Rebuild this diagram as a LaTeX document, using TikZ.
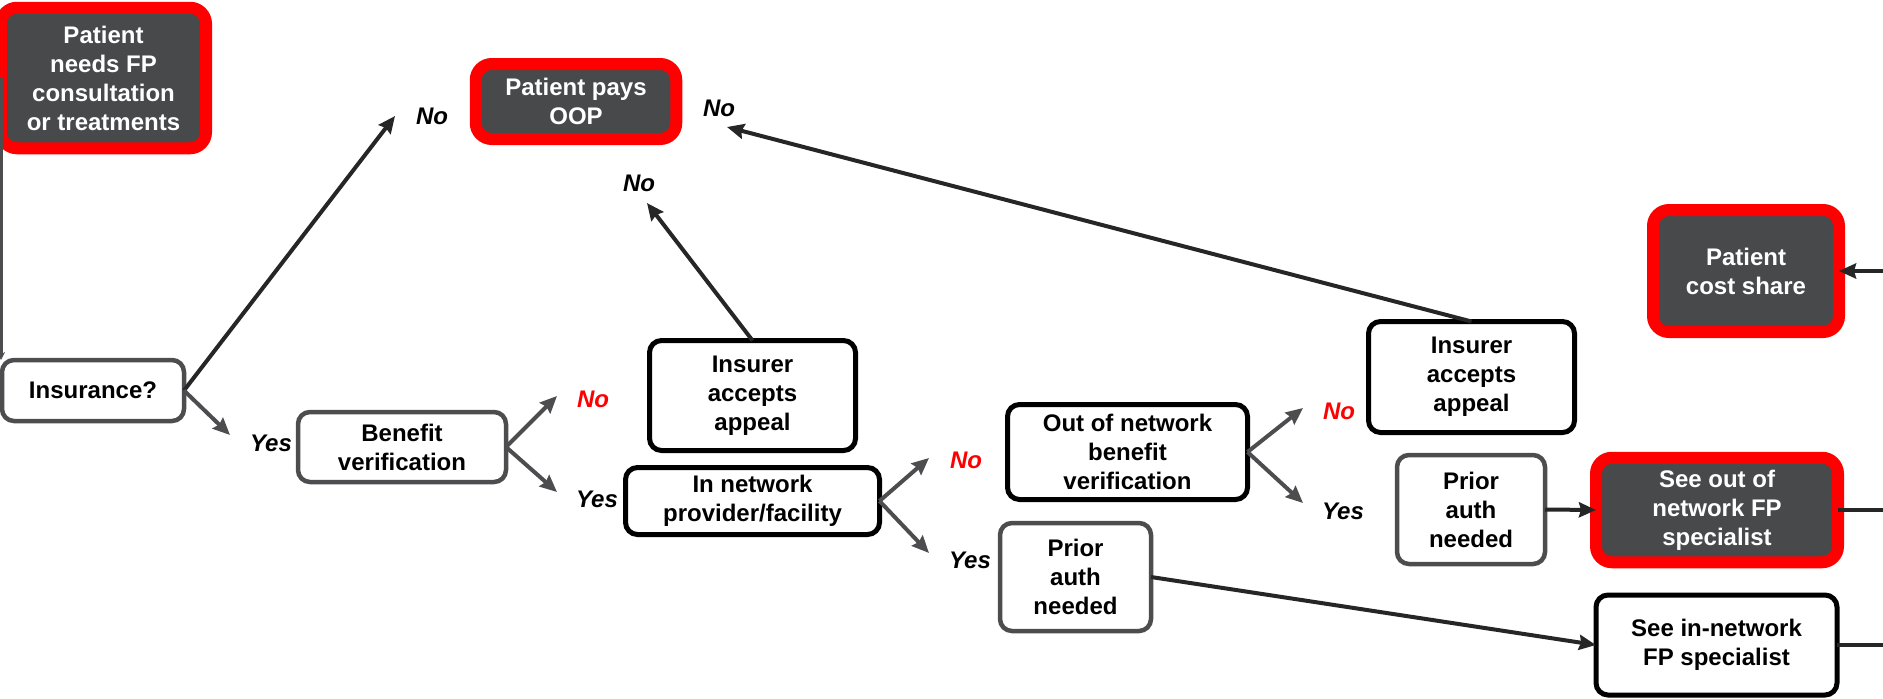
\documentclass[tikz,border=0pt]{standalone}
\usepackage{fontspec}
\setmainfont{Liberation Sans}
\usetikzlibrary{arrows.meta}
\definecolor{darkfill}{HTML}{48494B}
\definecolor{boxgray}{HTML}{4D4D4F}
\definecolor{linedark}{HTML}{262626}
\tikzstyle{box} = [rectangle, rounded corners=12pt, align=center, inner sep=0pt, outer sep=0pt, font=\fontsize{24}{29}\selectfont\bfseries, fill=white]
\tikzstyle{graybox} = [box, draw=boxgray, line width=4.5pt]
\tikzstyle{blackbox} = [box, draw=black, line width=5pt]
\tikzstyle{redbox} = [box, draw=red, line width=12pt, fill=darkfill, text=white, rounded corners=16pt]
\tikzstyle{arrow} = [line width=4pt, draw=linedark, -{Stealth[length=17pt,width=15pt,inset=2pt]}]
\tikzstyle{forkarrow} = [arrow, draw=boxgray]
\tikzstyle{answer} = [font=\fontsize{24}{29}\selectfont\bfseries\itshape, inner sep=0pt]

\begin{document}
\begin{tikzpicture}[x=1pt, y=-1pt]
\useasboundingbox (0,0) rectangle (1883,699);
% End states
\node (need) [redbox, minimum width=205pt, minimum height=140.5pt] at (103.5,78) {Patient\\ needs FP\\ consultation\\ or treatments};
\node (oop) [redbox, minimum width=200.5pt, minimum height=75pt] at (576,101.5) {Patient pays\\ OOP};
\node (cost) [redbox, minimum width=186pt, minimum height=122pt] at (1746,271) {Patient\\ cost share};
\node (seeout) [redbox, minimum width=242pt, minimum height=104.5pt] at (1717,510) {See out of\\ network FP\\ specialist};
\node (seein) [blackbox, minimum width=241pt, minimum height=100pt] at (1716.5,645) {See in-network\\ FP specialist};
% Decisions
\node (insur) [graybox, minimum width=182pt, minimum height=61pt] at (93,390.5) {Insurance?};
\node (benefit) [graybox, minimum width=208pt, minimum height=70pt] at (402,447) {Benefit\\ verification};
\node (appeal1) [blackbox, minimum width=206pt, minimum height=110pt] at (752.5,395.5) {Insurer\\ accepts\\ appeal};
\node (innet) [blackbox, minimum width=254pt, minimum height=67pt] at (752.5,501) {In network\\ provider/facility};
\node (oon) [blackbox, minimum width=240pt, minimum height=95pt] at (1127.5,452) {Out of network\\ benefit\\ verification};
\node (prior1) [graybox, minimum width=151pt, minimum height=108pt] at (1075.5,577) {Prior\\ auth\\ needed};
\node (appeal2) [blackbox, minimum width=206pt, minimum height=111pt] at (1471.5,377) {Insurer\\ accepts\\ appeal};
\node (prior2) [graybox, minimum width=148pt, minimum height=109pt] at (1471,509.5) {Prior\\ auth\\ needed};

% Yes/No labels
\node (no1) [answer] at (432,116) {No};
\node (no2) [answer] at (719,108) {No};
\node (no3) [answer] at (639,183) {No};
\node (yes1) [answer] at (271,443) {Yes};
\node (nored1) [answer, text=red] at (593,399) {No};
\node (yes2) [answer] at (597,499) {Yes};
\node (nored2) [answer, text=red] at (966,460) {No};
\node (yes3) [answer] at (970,560) {Yes};
\node (nored3) [answer, text=red] at (1339,411) {No};
\node (yes4) [answer] at (1343,511) {Yes};

% Arrow ends
\coordinate (t1) at (395,116);
\coordinate (t2) at (230,435);
\coordinate (t3) at (557,396);
\coordinate (t4) at (557,492);
\coordinate (t5) at (647,203);
\coordinate (t6) at (929,458);
\coordinate (t7) at (929,553);
\coordinate (t8) at (1303,408);
\coordinate (t9) at (1303,503);
\coordinate (t10) at (727,127);
\coordinate (edge1) at (1883,271);
\coordinate (edge2) at (1883,510);
\coordinate (edge3) at (1883,645);

% Arrows
\draw [arrow, line width=3pt, draw=boxgray, -{Stealth[length=8pt,width=8pt]}] (need.west) -- (need.west |- insur.north);
\draw [arrow] (insur.east) -- (t1);
\draw [forkarrow] (insur.east) -- (t2);
\draw [forkarrow] (benefit.east) -- (t3);
\draw [forkarrow] (benefit.east) -- (t4);
\draw [arrow] (appeal1.north) -- (t5);
\draw [forkarrow] (innet.east) -- (t6);
\draw [forkarrow] (innet.east) -- (t7);
\draw [forkarrow] (oon.east) -- (t8);
\draw [forkarrow] (oon.east) -- (t9);
\draw [arrow] (appeal2.north) -- (t10);
\draw [arrow] (prior2.east) -- (seeout.west);
\draw [arrow] (prior1.east) -- (seein.west);
\draw [arrow] (edge1) -- (cost.east);
\draw [line width=4pt, linedark] (seeout.east) -- (edge2);
\draw [line width=4pt, linedark] (seein.east) -- (edge3);
\end{tikzpicture}
\end{document}
